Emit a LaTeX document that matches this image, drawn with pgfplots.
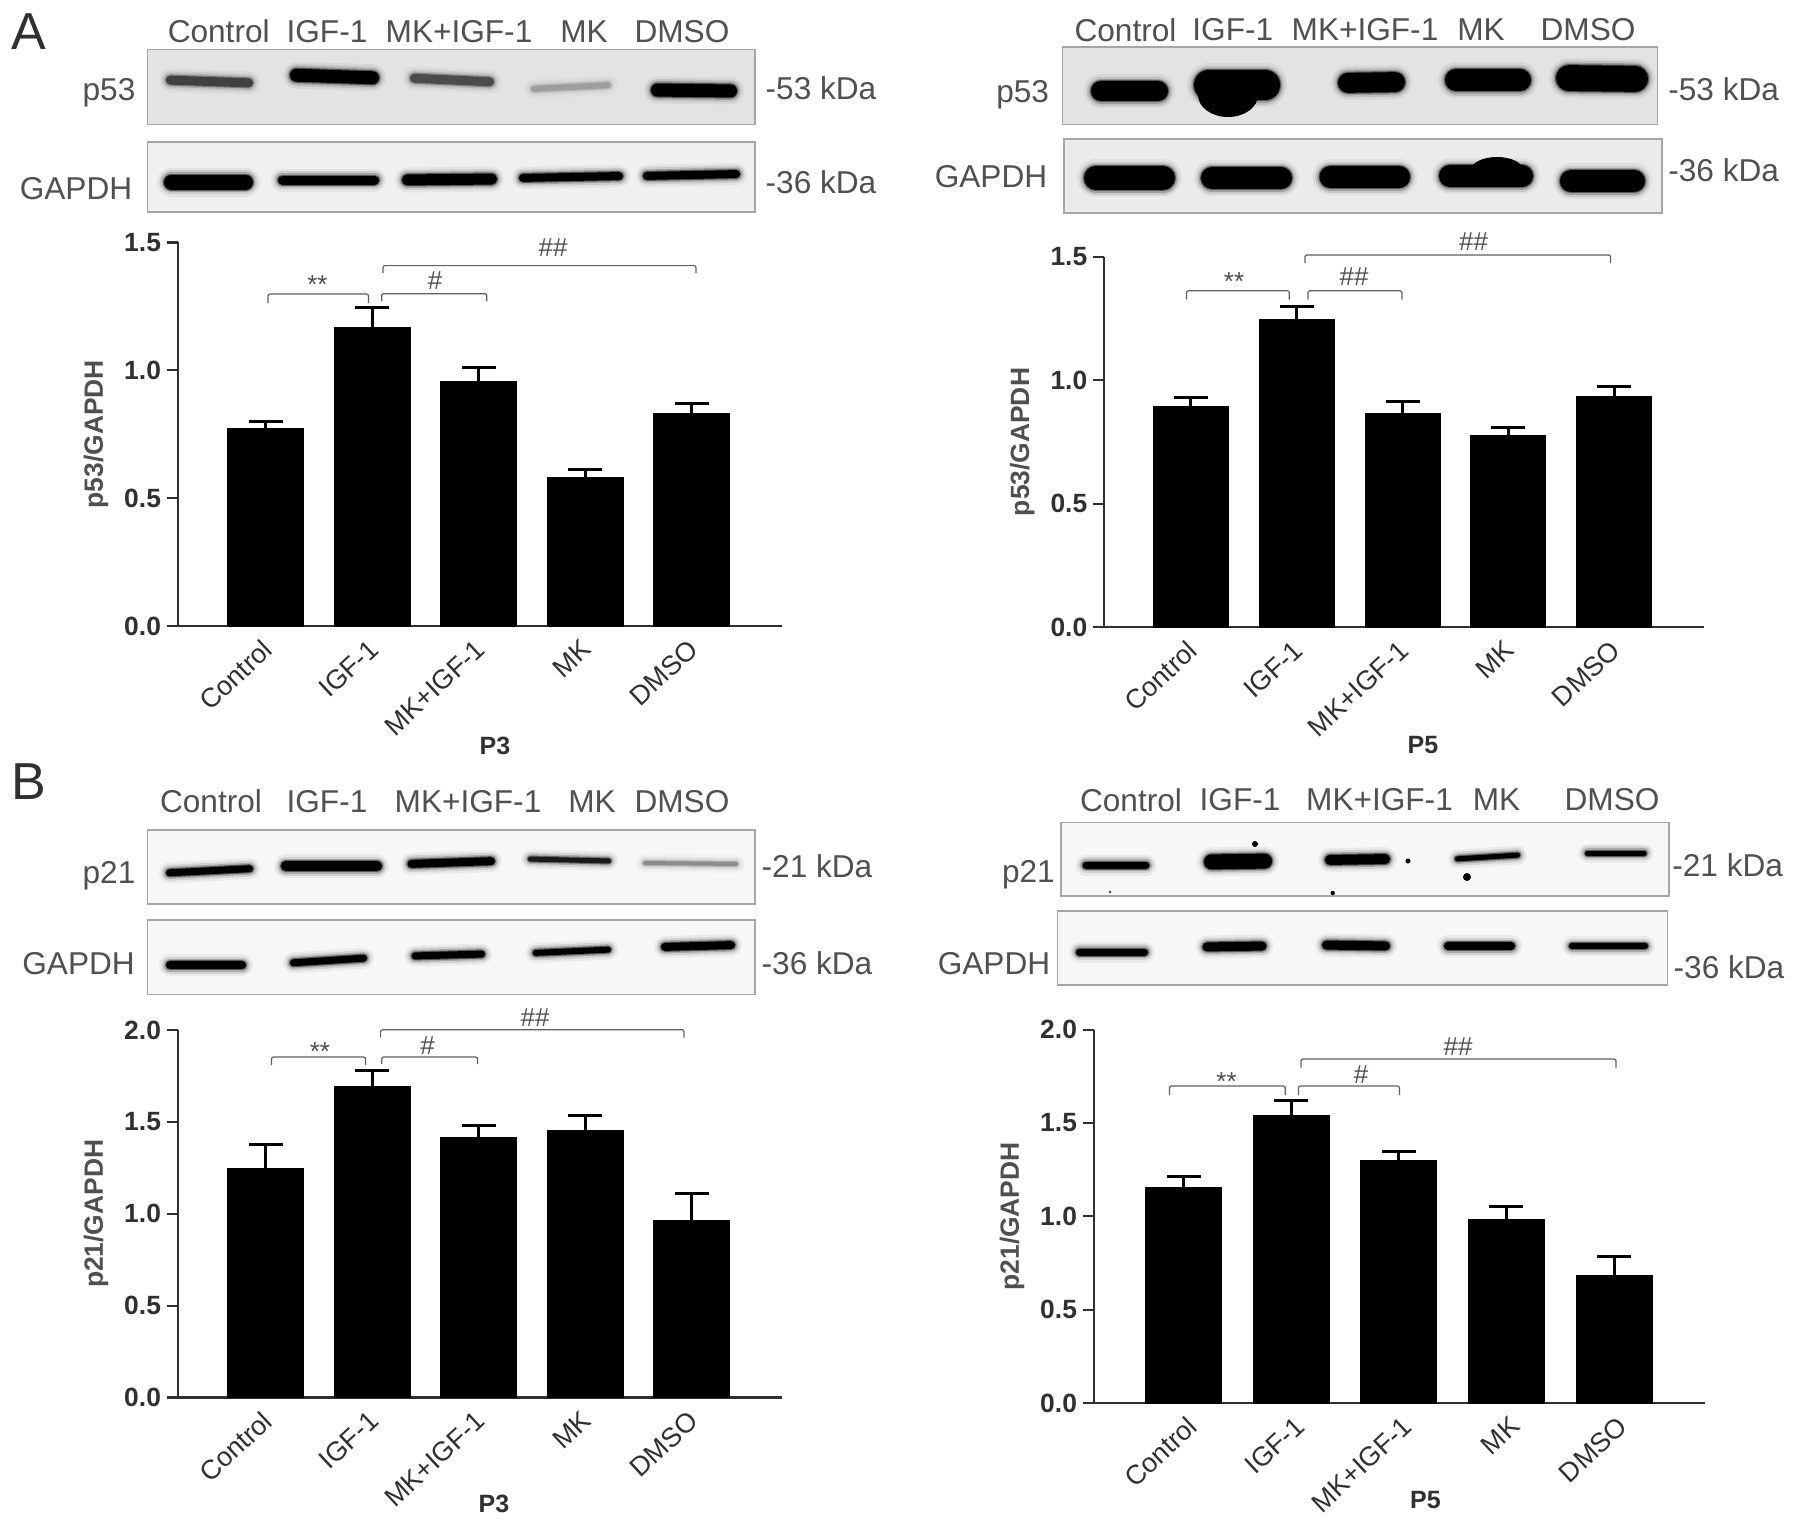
\documentclass[border=0pt]{standalone}
\usepackage{pgfplots}
\pgfplotsset{compat=1.18}
\usepackage{fontspec}
\setmainfont{Liberation Sans}
\definecolor{ax}{HTML}{303030}
\definecolor{blt}{HTML}{505050}
\definecolor{brk}{HTML}{606060}
\newcommand{\blotf}{\fontsize{15.8}{17}\selectfont}
% blot panel frame
\newcommand{\blot}[5]{\fill[#5] (#1,#2) rectangle (#3,#4);\draw[draw=black!35,line width=0.6pt] (#1,#2) rectangle (#3,#4);}
% band: x1,y1,x2,y2,thickness(px),colour
\newcommand{\band}[6]{%
\draw[line cap=round,line width={(#5+14)*0.5pt},color=#6,opacity=.05,shorten <={#5*0.25pt},shorten >={#5*0.25pt}] (#1,#2)--(#3,#4);
\draw[line cap=round,line width={(#5+9)*0.5pt},color=#6,opacity=.10,shorten <={#5*0.25pt},shorten >={#5*0.25pt}] (#1,#2)--(#3,#4);
\draw[line cap=round,line width={(#5+5)*0.5pt},color=#6,opacity=.20,shorten <={#5*0.25pt},shorten >={#5*0.25pt}] (#1,#2)--(#3,#4);
\draw[line cap=round,line width={(#5+2)*0.5pt},color=#6,opacity=.45,shorten <={#5*0.25pt},shorten >={#5*0.25pt}] (#1,#2)--(#3,#4);
\draw[line cap=round,line width={#5*0.5pt},color=#6,shorten <={#5*0.25pt},shorten >={#5*0.25pt}] (#1,#2)--(#3,#4);}
\newcommand{\bl}[3]{\node[text=blt,font=\blotf,anchor=center] at (#1,#2) {#3};}
% bracket: x1,x2,ytop,ybottom
\newcommand{\brk}[4]{\draw[brk,line width=0.6pt,rounded corners=1pt] (#1,#4)--(#1,#3)--(#2,#3)--(#2,#4);}
\newcommand{\sig}[3]{\node[text=blt,font=\fontsize{13}{14}\selectfont,anchor=center] at (#1,#2) {#3};}
\pgfplotsset{
 panel/.style={
  scale only axis, clip=false, ybar, bar width=38pt,
  axis x line=bottom, axis y line=left, axis line style={-,ax,line width=1.1pt},
  ymin=0, xtick={0,1,2,3,4},
  xticklabels={Control,IGF-1,MK+IGF-1,MK,DMSO},
  xtick style={draw=none},
  ytick style={ax,line width=1.1pt},
  tick align=outside, major tick length=5.5pt,
  yticklabel style={/pgf/number format/fixed,/pgf/number format/fixed zerofill,/pgf/number format/precision=1,/pgf/number format/assume math mode=true,font=\fontsize{13.2}{14}\selectfont\bfseries,text=ax,xshift=0.5pt},
  x tick label style={rotate=43,anchor=north east,font=\fontsize{13.5}{15}\selectfont,text=ax,xshift=-1pt,yshift=2.5pt,inner sep=1pt},
  ylabel style={at={(rel axis cs:0,0.5)},anchor=center,yshift=41pt,font=\fontsize{13.2}{14}\selectfont\bfseries,text=ax!85},
  xlabel style={at={(rel axis cs:0.5,0)},anchor=center,font=\fontsize{12.5}{14}\selectfont\bfseries,text=ax},
 },
 barst/.style={fill=black,draw=black,line width=0pt,
  error bars/y dir=plus,error bars/y explicit,
  error bars/error bar style={black,line width=1.5pt},
  error bars/error mark options={rotate=90,mark size=8.5pt,line width=1.5pt,black}},
}
\begin{document}
\begin{tikzpicture}[x=0.5pt,y=-0.5pt]
\path[use as bounding box,fill=white] (0,0) rectangle (1795,1526);
% ---------- panel letters
\node[text=ax,font=\fontsize{26}{28}\selectfont] at (29,32) {A};
\node[text=ax,font=\fontsize{26}{28}\selectfont] at (29,782) {B};
% ---------- A left blots
\blot{147.5}{49.4}{755}{124.6}{black!11}
\blot{147.5}{142}{755}{212}{black!6}
\band{166}{80}{253}{83}{9}{black!75}
\band{290}{75}{379}{78}{13}{black}
\band{410}{78}{494}{82}{9}{black!70}
\band{531}{89}{611}{85}{6}{black!38}
\band{651}{90}{737}{91}{13}{black}
\band{164}{182}{253}{182}{15}{black}
\band{278}{180}{379}{180}{9}{black}
\band{402}{180}{497}{179}{11}{black}
\band{519}{178}{623}{176}{8}{black}
\band{643}{176}{740}{174}{8}{black}
\bl{218.7}{31.5}{Control}\bl{327}{31.5}{IGF-1}\bl{459}{31.5}{MK+IGF-1}\bl{584}{31.5}{MK}\bl{682}{31.5}{DMSO}
\bl{109}{92.5}{p53}\bl{76}{189}{GAPDH}\bl{821}{88.7}{-53 kDa}\bl{821}{182}{-36 kDa}
% ---------- A right blots
\blot{1062.7}{47}{1657.4}{124.6}{black!11}
\blot{1064}{139}{1662}{213}{black!8}
\band{1091}{91}{1168}{91}{20}{black}
\band{1194}{85}{1280}{85}{30}{black}
\fill[black] (1228,95) ellipse [x radius=30,y radius=22];
\band{1338}{83}{1405}{82}{20}{black}
\band{1445}{80}{1531}{80}{22}{black}
\band{1556}{78}{1648}{79}{26}{black}
\band{1084}{178}{1175}{178}{24}{black}
\band{1201}{178}{1292}{178}{22}{black}
\band{1319.5}{177}{1410}{177}{22}{black}
\band{1439}{176}{1533}{176}{22}{black}
\fill[black] (1497,170) ellipse [x radius=26,y radius=13];
\band{1560}{181}{1645}{181}{22}{black}
\bl{1125.5}{30}{Control}\bl{1232.8}{30}{IGF-1}\bl{1365}{30}{MK+IGF-1}\bl{1481}{30}{MK}\bl{1588}{30}{DMSO}
\bl{1022.7}{95}{p53}\bl{991}{177}{GAPDH}\bl{1723.7}{89.7}{-53 kDa}\bl{1723.7}{170.6}{-36 kDa}
% ---------- B left blots
\blot{147.5}{830}{755}{904}{black!3}
\blot{147.5}{920}{755}{994.5}{black!3}
\band{166}{873}{253}{868.5}{7}{black}
\band{281}{866}{382}{866}{10}{black}
\band{407.5}{864}{495}{861}{8}{black}
\band{528}{859}{611}{861}{5}{black!90}
\band{643}{863}{738}{864}{4}{black!45}
\band{166}{965}{246}{965}{8}{black}
\band{290}{963}{367}{958}{7}{black}
\band{411.6}{956}{485}{954}{7}{black}
\band{532.7}{953}{611}{949.5}{6}{black}
\band{661}{947}{735}{945}{8}{black}
\bl{211}{801.5}{Control}\bl{327}{801.5}{IGF-1}\bl{468}{801.5}{MK+IGF-1}\bl{592}{801.5}{MK}\bl{682}{801.5}{DMSO}
\bl{109}{876}{p21}\bl{78.6}{964}{GAPDH}\bl{817}{866.5}{-21 kDa}\bl{817}{963}{-36 kDa}
% ---------- B right blots
\blot{1061}{822.5}{1669}{896}{black!3}
\blot{1057.5}{911}{1667.7}{985}{black!3}
\band{1082.6}{865}{1149.4}{865}{7}{black}
\band{1204}{862}{1272}{861}{15}{black}
\band{1325}{860}{1390}{859}{10}{black}
\band{1455}{859}{1520}{855}{5}{black}
\band{1585}{853}{1646.6}{853}{5}{black}
\fill[black] (1255,844) circle (3);\fill[black] (1467,877) circle (4);\fill[black] (1408,861) circle (2.5);\fill[black] (1332.7,893) circle (2.2);\fill[black!60] (1110,892) circle (1.6);
\band{1076}{952}{1148}{952}{7}{black}
\band{1202.5}{947}{1266.5}{946}{9}{black}
\band{1322}{945}{1390}{946}{9}{black}
\band{1444}{946}{1515}{946}{8}{black}
\band{1569}{946}{1648}{946}{6}{black}
\bl{1131}{800}{Control}\bl{1240}{800}{IGF-1}\bl{1379.5}{800}{MK+IGF-1}\bl{1496.5}{800}{MK}\bl{1612}{800}{DMSO}
\bl{1028.4}{875}{p21}\bl{994}{963.7}{GAPDH}\bl{1727.7}{865}{-21 kDa}\bl{1729}{967.6}{-36 kDa}
% ---------- A left chart
\begin{axis}[panel,at={(89pt,-313pt)},anchor=south west,width=302pt,height=191.8pt,
 xmin=-0.824,xmax=4.847,ymax=1.5,ytick={0,0.5,1,1.5},
 ylabel={p53/GAPDH},xlabel={P3},xlabel style={xshift=7.5pt,yshift=-60pt}]
\addplot[barst] coordinates {(0,0.771) +- (0,0.03) (1,1.169) +- (0,0.075) (2,0.955) +- (0,0.056) (3,0.581) +- (0,0.03) (4,0.831) +- (0,0.04)};
\end{axis}
% ---------- A right chart
\begin{axis}[panel,at={(552.15pt,-313.5pt)},anchor=south west,width=299.7pt,height=185pt,bar width=37.5pt,
 xmin=-0.819,xmax=4.846,ymax=1.5,ytick={0,0.5,1,1.5},
 ylabel={p53/GAPDH},xlabel={P5},xlabel style={xshift=9.5pt,yshift=-59pt}]
\addplot[barst] coordinates {(0,0.895) +- (0,0.036) (1,1.245) +- (0,0.053) (2,0.866) +- (0,0.047) (3,0.777) +- (0,0.032) (4,0.935) +- (0,0.041)};
\end{axis}
% ---------- B left chart
\begin{axis}[panel,at={(89pt,-698.75pt)},anchor=south west,width=302pt,height=183.75pt,
 xmin=-0.824,xmax=4.847,ymax=2,ytick={0,0.5,1,1.5,2},
 ylabel={p21/GAPDH},xlabel={P3},xlabel style={xshift=7pt,yshift=-53pt}]
\addplot[barst] coordinates {(0,1.247) +- (0,0.128) (1,1.694) +- (0,0.085) (2,1.415) +- (0,0.064) (3,1.455) +- (0,0.08) (4,0.963) +- (0,0.149)};
\end{axis}
% ---------- B right chart
\begin{axis}[panel,at={(547pt,-701.5pt)},anchor=south west,width=305.5pt,height=186.65pt,
 xmin=-0.833,xmax=4.845,ymax=2,ytick={0,0.5,1,1.5,2},
 x tick label style={xshift=2.6pt,yshift=-2.4pt},
 ylabel={p21/GAPDH},xlabel={P5},xlabel style={xshift=13pt,yshift=-48.5pt}]
\addplot[barst] coordinates {(0,1.152) +- (0,0.06) (1,1.542) +- (0,0.078) (2,1.301) +- (0,0.047) (3,0.982) +- (0,0.07) (4,0.683) +- (0,0.102)};
\end{axis}
% ---------- significance brackets
\brk{268}{368.5}{294}{303}\sig{317.4}{285}{**}
\brk{381.7}{486.8}{293.7}{301}\sig{435}{281}{\#}
\brk{383}{696}{265.6}{273}\sig{553}{248}{\#\#}
\brk{1186.5}{1289.3}{290.8}{299.5}\sig{1234}{282}{**}
\brk{1308}{1402}{290.8}{299.5}\sig{1354}{277}{\#\#}
\brk{1305}{1610.6}{255}{263}\sig{1473.6}{242}{\#\#}
\brk{271.5}{365.6}{1057}{1065}\sig{320}{1052}{**}
\brk{381.7}{477.6}{1057}{1064}\sig{427.6}{1046}{\#}
\brk{380.6}{684}{1029.7}{1037.5}\sig{535}{1018}{\#\#}
\brk{1169.4}{1285.3}{1086}{1095}\sig{1226.5}{1082}{**}
\brk{1298.4}{1399.5}{1086}{1095}\sig{1361}{1075}{\#}
\brk{1301}{1616}{1059}{1067.7}\sig{1458}{1047}{\#\#}
\end{tikzpicture}
\end{document}
